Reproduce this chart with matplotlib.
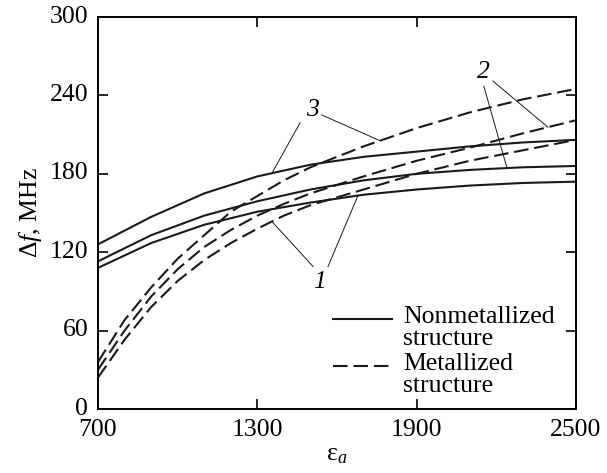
import matplotlib
matplotlib.use("Agg")
import matplotlib.pyplot as plt
import matplotlib.transforms as mtransforms
import numpy as np

# values
eps_solid = [700, 900, 1100, 1300, 1500, 1700, 1900, 2100, 2300, 2500]
solid1 = [108, 127, 141, 151, 158, 164, 168, 171, 173, 174]
solid2 = [113, 133, 148, 159, 168, 175, 180, 183, 185, 186]
solid3 = [126, 147, 165, 178, 187, 193, 197, 201, 204, 206]

eps_dash = [700, 800, 900, 1000, 1100, 1200, 1300, 1400, 1500, 1700, 1900, 2100, 2300, 2500]
dash1 = [24, 53, 78, 98, 114, 127, 138, 148, 156, 168, 180, 190, 198, 206]
dash2 = [30, 60, 86, 107, 124, 137, 148, 157, 165, 178, 190, 200, 211, 221]
dash3 = [36, 68, 93, 115, 133, 151, 163, 175, 185, 201, 215, 227, 237, 245]

xticks = [700, 1300, 1900, 2500]
yticks = [0, 60, 120, 180, 240, 300]

plt.rcParams['font.family'] = ['Liberation Serif', 'DejaVu Serif']
plt.rcParams['font.size'] = 18.5
plt.rcParams['mathtext.fontset'] = 'custom'
plt.rcParams['mathtext.rm'] = 'Liberation Serif'
plt.rcParams['mathtext.it'] = 'Liberation Serif:italic'

fig = plt.figure(figsize=(6.07, 4.73), dpi=100)
ax = fig.add_axes([0.1614, 0.1353, 0.949 - 0.1614, 0.964 - 0.1353])

lw = 1.5
dash = (7, 2.8)
for ys in [solid1, solid2, solid3]:
    ax.plot(eps_solid, ys, color='#1a1a1a', lw=lw)
for ys in [dash1, dash2, dash3]:
    ax.plot(eps_dash, ys, color='#1a1a1a', lw=lw, dashes=dash)

ax.set_xlim(700, 2500)
ax.set_ylim(0, 300)
ax.set_xticks(xticks)
ax.set_yticks(yticks)
ax.tick_params(direction='in', length=7, width=1.2, top=True, right=True, pad=7)
for s in ax.spines.values():
    s.set_linewidth(1.4)

# y tick labels sit a little above their ticks in the original
up = mtransforms.ScaledTranslation(0, 3 / 100, fig.dpi_scale_trans)
for lab in ax.get_yticklabels():
    lab.set_transform(lab.get_transform() + up)

ax.set_ylabel(r'$\Delta f$, MHz', labelpad=4)
ax.set_xlabel('ε$_a$', labelpad=2)


# curve labels with leader lines
def leader(txt, tx, ty, ends):
    ax.text(tx, ty, txt, style='italic', ha='center', va='center')
    for sx, sy, xs, ys, ex in ends:
        ax.plot([sx, ex], [sy, np.interp(ex, xs, ys)], color='#1a1a1a', lw=0.7)


leader('3', 1509, 229, [(1461, 219, eps_solid, solid3, 1355),
                        (1543, 225, eps_dash, dash3, 1762)])
leader('2', 2153, 258, [(2153, 247, eps_solid, solid2, 2240),
                        (2187, 251, eps_dash, dash2, 2394)])
leader('1', 1536, 97, [(1510, 109, eps_dash, dash1, 1355),
                       (1566, 109, eps_solid, solid1, 1679)])

# legend drawn by hand so the line sits next to the first text line
ax.plot([0.4916, 0.615], [0.2296, 0.2296], transform=ax.transAxes, color='#1a1a1a', lw=lw)
ax.plot([0.4916, 0.615], [0.1097, 0.1097], transform=ax.transAxes, color='#1a1a1a', lw=lw,
        dashes=dash)
ax.text(0.638, 0.2194, 'Nonmetallized', transform=ax.transAxes, va='baseline')
ax.text(0.638, 0.1633, 'structure', transform=ax.transAxes, va='baseline')
ax.text(0.638, 0.0995, 'Metallized', transform=ax.transAxes, va='baseline')
ax.text(0.638, 0.0434, 'structure', transform=ax.transAxes, va='baseline')

fig.savefig('out.png', dpi=100)
